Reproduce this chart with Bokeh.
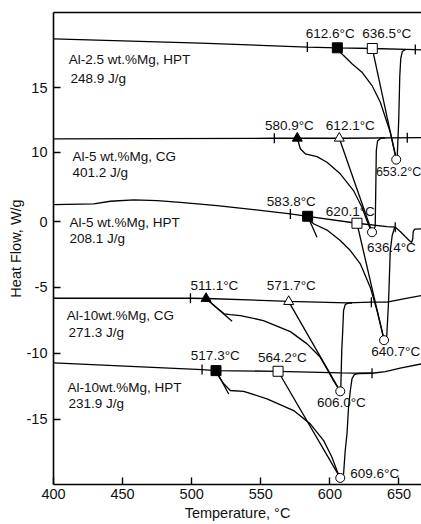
import math
from bokeh.plotting import figure
from bokeh.models import FixedTicker, LinearAxis, Range1d, ColumnDataSource
from bokeh.core.properties import value
from bokeh.embed import file_html
from bokeh.resources import INLINE

FONT = "Liberation Sans"

# ---------------- data (temperature in °C, heat flow in W/g as plotted) ----------------
# Curve 1: Al-2.5 wt.%Mg, HPT
c1_base_T = [400.0, 506.3, 583.7, 605.4, 630.7, 661.8, 666.3]
c1_base_H = [13.86, 13.53, 13.24, 13.18, 13.13, 13.05, 13.02]
c1_trace_T = [605.4, 607.5, 616.0, 623.2, 630.5, 636.5, 641.3, 643.7, 645.9, 647.7, 648.0]
c1_trace_H = [13.18, 12.85, 11.97, 11.33, 10.32, 9.05, 7.53, 6.78, 5.77, 4.93, 4.70]
c1_ret_T = [648.0, 648.7, 649.8, 650.6, 651.3, 652.4, 654.5]
c1_ret_H = [4.70, 4.78, 7.66, 11.08, 12.37, 12.90, 13.03]
c1_ticks_T = [583.7, 661.8]
c1_ticks_H = [13.24, 13.05]
c1_on = (605.4, 13.18)
c1_open = (630.7, 13.13)
c1_peak = (648.0, 4.70)

# Curve 2: Al-5 wt.%Mg, CG
c2_base_T = [400.0, 560.0, 610.0, 666.3]
c2_base_H = [6.27, 6.32, 6.32, 6.37]
c2_trace_T = [576.4, 578.6, 582.2, 590.7, 597.9, 607.5, 617.1, 623.2, 626.8, 629.2, 630.5]
c2_trace_H = [6.32, 5.52, 5.14, 4.93, 4.50, 3.62, 2.35, 1.08, 0.08, -0.55, -0.81]
c2_ret_T = [630.5, 632.8, 633.2, 633.6, 634.5, 637.0, 640.0]
c2_ret_H = [-0.81, -0.38, 2.35, 5.39, 6.11, 6.34, 6.33]
c2_ticks_T = [559.8, 656.0]
c2_ticks_H = [6.32, 6.35]
c2_on = (576.4, 6.32)
c2_open = (606.8, 6.32)
c2_peak = (630.5, -0.81)

# Curve 3: Al-5 wt.%Mg, HPT
c3_base_T = [400.2, 429.1, 441.2, 458.1, 475.0, 491.8, 518.4, 544.8, 571.4, 583.9, 619.6,
             641.3, 647.3, 650.9, 654.5, 657.4, 659.2, 660.0, 660.3, 661.4, 666.3]
c3_base_H = [1.29, 1.34, 1.54, 1.65, 1.59, 1.46, 1.21, 0.91, 0.58, 0.40, -0.13,
             -0.38, -0.43, -0.76, -1.14, -1.44, -1.59, -1.29, -0.76, -0.57, -0.55]
c3_trace_T = [583.9, 585.8, 588.2, 597.9, 607.5, 614.8, 622.0, 629.2, 634.1, 637.7, 639.2]
c3_trace_H = [0.40, 0.08, -0.17, -0.65, -1.44, -2.20, -3.21, -4.98, -6.75, -8.27, -9.00]
c3_stub_T = [583.9, 590.7]
c3_stub_H = [0.40, -1.19]
c3_ret_T = [639.2, 641.1, 642.5, 643.7, 645.1, 646.6, 648.0]
c3_ret_H = [-9.00, -8.80, -5.99, -2.20, -1.06, -0.53, -0.43]
c3_ticks_T = [571.4, 647.3]
c3_ticks_H = [0.58, -0.43]
c3_on = (583.9, 0.40)
c3_open = (619.6, -0.13)
c3_peak = (639.2, -9.00)

# Curve 4: Al-10wt.%Mg, CG
c4_base_T = [400.0, 499.1, 510.6, 569.9, 612.4, 630.0, 641.3, 653.3, 666.3]
c4_base_H = [-5.82, -5.82, -5.84, -6.05, -6.17, -6.12, -6.12, -5.86, -5.61]
c4_trace_T = [510.4, 517.0, 523.5, 528.0, 535.2, 551.9, 571.4, 583.5, 593.1, 597.9, 602.5, 607.5]
c4_trace_H = [-5.84, -6.44, -7.00, -7.06, -7.13, -7.51, -8.35, -9.28, -10.30, -11.18, -12.06, -12.88]
c4_stub_T = [510.4, 529.2]
c4_stub_H = [-5.84, -7.56]
c4_ret_T = [607.5, 607.9, 608.6, 609.2, 609.9, 611.1, 613.5, 616.0]
c4_ret_H = [-12.88, -12.59, -9.79, -8.50, -6.75, -6.30, -6.17, -6.18]
c4_ticks_T = [499.1, 630.0]
c4_ticks_H = [-5.82, -6.12]
c4_on = (510.4, -5.84)
c4_open = (570.2, -6.07)
c4_peak = (607.5, -12.88)

# Curve 5: Al-10wt.%Mg, HPT
c5_base_T = [400.0, 507.5, 517.6, 562.5, 607.5, 630.5, 640.1, 650.9, 666.3]
c5_base_H = [-10.72, -11.23, -11.31, -11.36, -11.48, -11.51, -11.38, -11.12, -10.80]
c5_trace_T = [517.6, 518.4, 523.2, 528.0, 537.6, 554.5, 573.8, 585.8, 595.5, 601.5, 605.1, 607.5]
c5_trace_H = [-11.31, -11.56, -12.31, -12.82, -12.88, -13.45, -14.34, -15.35, -16.62, -17.88, -18.89, -19.45]
c5_stub_T = [517.6, 526.8]
c5_stub_H = [-11.31, -13.08]
c5_ret_T = [607.5, 609.9, 611.1, 612.4, 613.5, 614.8, 616.0, 617.7, 620.5, 630.5]
c5_ret_H = [-19.45, -19.17, -17.37, -16.08, -14.09, -12.82, -11.93, -11.61, -11.53, -11.51]
c5_ticks_T = [507.5, 630.5]
c5_ticks_H = [-11.23, -11.51]
c5_on = (517.6, -11.31)
c5_open = (562.5, -11.36)
c5_peak = (607.5, -19.45)

# Temperature labels (text, T, H, align, size)
temp_labels = [
    ("612.6°C", 600.3, 14.26, "center", "13.5px"), ("636.5°C", 641.2, 14.26, "center", "13.5px"),
    ("580.9°C", 570.7, 7.26, "center", "13.5px"), ("612.1°C", 614.8, 7.28, "center", "13.5px"),
    ("653.2°C", 666.1, 3.74, "right", "12.5px"),
    ("583.8°C", 572.1, 1.54, "center", "13.5px"), ("620.1°C", 614.8, 0.76, "center", "13.5px"),
    ("636.4°C", 626.8, -1.95, "left", "13.5px"),
    ("511.1°C", 516.4, -4.86, "center", "13.5px"), ("571.7°C", 572.1, -4.86, "center", "13.5px"),
    ("640.7°C", 630.0, -9.86, "left", "13.5px"),
    ("517.3°C", 517.1, -10.17, "center", "13.5px"), ("564.2°C", 565.6, -10.30, "center", "13.5px"),
    ("606.0°C", 608.3, -13.76, "center", "13.5px"),
    ("609.6°C", 614.8, -19.10, "left", "13.5px"),
]
# Sample labels (text, T, H)
sample_labels = [
    ("Al-2.5 wt.%Mg, HPT", 411.1, 12.29), ("248.9 J/g", 412.3, 10.87),
    ("Al-5 wt.%Mg, CG", 413.7, 4.95), ("401.2 J/g", 413.7, 3.70),
    ("Al-5 wt.%Mg, HPT", 411.6, -0.05), ("208.1 J/g", 411.6, -1.31),
    ("Al-10wt.%Mg, CG", 409.6, -7.13), ("271.3 J/g", 410.8, -8.44),
    ("Al-10wt.%Mg, HPT", 410.1, -12.57), ("231.9 J/g", 410.8, -13.83),
]

x_ticks = [400, 450, 500, 550, 600, 650]
y_tick_pos = [-15, -10, -5, 0, 5.26, 10.14]
y_tick_text = ["-15", "-10", "-5", "0", "10", "15"]

# ---------------- figure ----------------
p = figure(width=421, height=524, x_range=Range1d(400, 666.3), y_range=Range1d(-19.95, 15.86),
           output_backend="svg", toolbar_location=None,
           min_border_left=53, min_border_right=0, min_border_top=12, min_border_bottom=40)
p.outline_line_color = None
p.grid.visible = False
p.background_fill_color = "white"

LW = 1.3
K = "black"

curves = [
    (c1_base_T, c1_base_H, c1_trace_T, c1_trace_H, c1_ret_T, c1_ret_H, None, None,
     c1_ticks_T, c1_ticks_H, c1_on, c1_open, c1_peak, "square"),
    (c2_base_T, c2_base_H, c2_trace_T, c2_trace_H, c2_ret_T, c2_ret_H, None, None,
     c2_ticks_T, c2_ticks_H, c2_on, c2_open, c2_peak, "triangle"),
    (c3_base_T, c3_base_H, c3_trace_T, c3_trace_H, c3_ret_T, c3_ret_H, c3_stub_T, c3_stub_H,
     c3_ticks_T, c3_ticks_H, c3_on, c3_open, c3_peak, "square"),
    (c4_base_T, c4_base_H, c4_trace_T, c4_trace_H, c4_ret_T, c4_ret_H, c4_stub_T, c4_stub_H,
     c4_ticks_T, c4_ticks_H, c4_on, c4_open, c4_peak, "triangle"),
    (c5_base_T, c5_base_H, c5_trace_T, c5_trace_H, c5_ret_T, c5_ret_H, c5_stub_T, c5_stub_H,
     c5_ticks_T, c5_ticks_H, c5_on, c5_open, c5_peak, "square"),
]

for (bT, bH, tT, tH, rT, rH, sT, sH, kT, kH, on, op, pk, mk) in curves:
    p.line(bT, bH, line_color=K, line_width=LW)
    p.line(tT, tH, line_color=K, line_width=LW)
    p.line(rT, rH, line_color=K, line_width=LW)
    if sT is not None:
        p.line(sT, sH, line_color=K, line_width=LW)
    # tangent from open marker to peak
    p.line([op[0], pk[0]], [op[1], pk[1]], line_color=K, line_width=LW)
    # onset ticks
    p.scatter(kT, kH, marker="dash", angle=math.pi / 2, size=10, line_color=K, line_width=1.3)

for (bT, bH, tT, tH, rT, rH, sT, sH, kT, kH, on, op, pk, mk) in curves:
    sz = 10
    p.scatter([on[0]], [on[1]], marker=mk, size=sz, fill_color=K, line_color=K, line_width=1)
    p.scatter([op[0]], [op[1]], marker=mk, size=sz, fill_color="white", line_color=K, line_width=1)
    p.scatter([pk[0]], [pk[1]], marker="circle", size=9, fill_color="white", line_color=K, line_width=1)

# text labels
tl = ColumnDataSource(dict(x=[t[1] for t in temp_labels], y=[t[2] for t in temp_labels],
                           text=[t[0] for t in temp_labels], align=[t[3] for t in temp_labels],
                           fs=[t[4] for t in temp_labels]))
p.text(x="x", y="y", text="text", source=tl, text_align="align", text_baseline="middle",
       text_font=value(FONT), text_font_size="fs", text_color="#111111")
sl = ColumnDataSource(dict(x=[t[1] for t in sample_labels], y=[t[2] for t in sample_labels],
                           text=[t[0] for t in sample_labels]))
p.text(x="x", y="y", text="text", source=sl, text_align="left", text_baseline="middle",
       text_font=value(FONT), text_font_size="13.5px", text_color="#111111")

# axes
for ax in (p.xaxis[0], p.yaxis[0]):
    ax.major_tick_in = 7
    ax.major_tick_out = 0
    ax.minor_tick_line_color = None
    ax.axis_line_width = 1.6
    ax.major_tick_line_width = 1.4
    ax.major_label_text_font = FONT
    ax.major_label_text_color = "#111111"
    ax.major_label_text_font_size = "14.5px"
    ax.axis_label_text_font = FONT
    ax.axis_label_text_font_size = "14.5px"
    ax.axis_label_text_font_style = "normal"
    ax.axis_label_text_color = "#111111"

p.xaxis.ticker = FixedTicker(ticks=x_ticks)
p.xaxis.axis_label = "Temperature, °C"
p.xaxis.major_label_standoff = 4
p.xaxis.axis_label_standoff = 3

p.yaxis.ticker = FixedTicker(ticks=y_tick_pos)
p.yaxis.major_label_overrides = {pos: txt for pos, txt in zip(y_tick_pos, y_tick_text)}
p.yaxis.axis_label = "Heat Flow, W/g"
p.yaxis.major_label_standoff = 6
p.yaxis.axis_label_standoff = 0

top = LinearAxis(ticker=FixedTicker(ticks=[]), major_tick_in=0, major_tick_out=0,
                 minor_tick_in=0, minor_tick_out=0, major_label_standoff=0,
                 axis_line_width=1.6)
p.add_layout(top, "above")

open("out.html", "w").write(file_html(p, INLINE))
